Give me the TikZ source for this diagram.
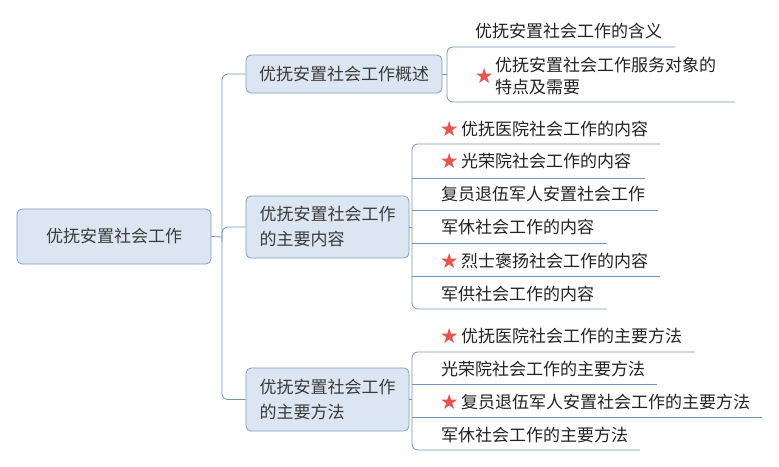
\documentclass[tikz,border=0pt]{standalone}
\usepackage{fontspec}
\setmainfont{Noto Sans CJK SC}
\newfontfamily\symfont{DejaVu Sans}
\usetikzlibrary{positioning}
\definecolor{boxfill}{HTML}{DCE6F2}
\definecolor{boxline}{HTML}{7F9DC1}
\definecolor{linkblue}{HTML}{7393B9}
\definecolor{starred}{HTML}{E8534F}
\definecolor{topictxt}{HTML}{3A3A3A}
\definecolor{leaftxt}{HTML}{222222}
\tikzset{
  topic/.style={draw=boxline, line width=0.8pt, fill=boxfill, rounded corners=5pt,
    text=topictxt, font=\fontsize{17}{25}\selectfont, align=left, inner sep=0pt},
  leaf/.style={anchor=west, inner sep=0pt, text=leaftxt,
    font=\fontsize{17}{22}\selectfont, align=left},
  starmark/.style={inner sep=0pt, text=starred, font=\symfont\fontsize{21}{21}\selectfont},
  link/.style={draw=linkblue, line width=0.8pt, rounded corners=6pt},
}

\begin{document}
\begin{tikzpicture}[x=1pt,y=-1pt]
\useasboundingbox (0,0) rectangle (779,466);
% centre and branches
\node[topic, minimum width=194, minimum height=55] (root) at (114,236.5) {优抚安置社会工作};
\node[topic, minimum width=196, minimum height=38] (gaishu) at (344,74) {优抚安置社会工作概述};
\node[topic, minimum width=163, minimum height=62] (neirong) at (327.5,227) {优抚安置社会工作\\的主要内容};
\node[topic, minimum width=163, minimum height=63] (fangfa) at (327.5,399.5) {优抚安置社会工作\\的主要方法};

\coordinate (trunk) at (222,237);
\draw[link] (root.east) -- (trunk);
\draw[link] (gaishu.west) -- (222,74) -- (222,399.5) -- (fangfa.west);
\draw[link] (222,242) |- (neirong.west);

% overview leaves
\node[leaf] (hanyi) at (475,31) {优抚安置社会工作的含义};
\node[leaf] (tedian) at (495,76) {优抚安置社会工作服务对象的\\特点及需要};
\node[starmark, left=1pt of tedian] (s0) {★};
\coordinate (g1) at (447,47);  \coordinate (g1e) at (675,47);
\coordinate (g2) at (447,102); \coordinate (g2e) at (735,102);
\draw[link] (gaishu.east) -- (447,74);
\draw[link] (g1e) -- (g1) -- (g2) -- (g2e);

% content leaves
\node[leaf] (n1) at (461,129) {优抚医院社会工作的内容};
\node[starmark, left=2pt of n1] (s1) {★};
\node[leaf] (n2) at (461,161) {光荣院社会工作的内容};
\node[starmark, left=2pt of n2] (s2) {★};
\node[leaf] (n3) at (441,194) {复员退伍军人安置社会工作};
\node[leaf] (n4) at (441,227) {军休社会工作的内容};
\node[leaf] (n5) at (461,261) {烈士褒扬社会工作的内容};
\node[starmark, left=2pt of n5] (s5) {★};
\node[leaf] (n6) at (441,294) {军供社会工作的内容};
\coordinate (n1s) at (412,144); \coordinate (n1e) at (660,144);
\coordinate (n2s) at (412,178); \coordinate (n2e) at (645,178);
\coordinate (n3s) at (412,210); \coordinate (n3e) at (658,210);
\coordinate (n4s) at (412,243); \coordinate (n4e) at (607,243);
\coordinate (n5s) at (412,276); \coordinate (n5e) at (660,276);
\coordinate (n6s) at (412,309); \coordinate (n6e) at (607,309);
\draw[link] (neirong.east) -- (412,227);
\draw[link] (n1e) -- (n1s) -- (n6s) -- (n6e);
\draw[link] (n2s) -- (n2e);
\draw[link] (n3s) -- (n3e);
\draw[link] (n4s) -- (n4e);
\draw[link] (n5s) -- (n5e);

% method leaves
\node[leaf] (f1) at (461,336) {优抚医院社会工作的主要方法};
\node[starmark, left=2pt of f1] (t1) {★};
\node[leaf] (f2) at (441,369) {光荣院社会工作的主要方法};
\node[leaf] (f3) at (461,402) {复员退伍军人安置社会工作的主要方法};
\node[starmark, left=2pt of f3] (t3) {★};
\node[leaf] (f4) at (441,435) {军休社会工作的主要方法};
\coordinate (f1s) at (412,352); \coordinate (f1e) at (695,352);
\coordinate (f2s) at (412,384); \coordinate (f2e) at (657,384);
\coordinate (f3s) at (412,417); \coordinate (f3e) at (762,417);
\coordinate (f4s) at (412,450); \coordinate (f4e) at (640,450);
\draw[link] (fangfa.east) -- (412,399.5);
\draw[link] (f1e) -- (f1s) -- (f4s) -- (f4e);
\draw[link] (f2s) -- (f2e);
\draw[link] (f3s) -- (f3e);
\end{tikzpicture}
\end{document}
